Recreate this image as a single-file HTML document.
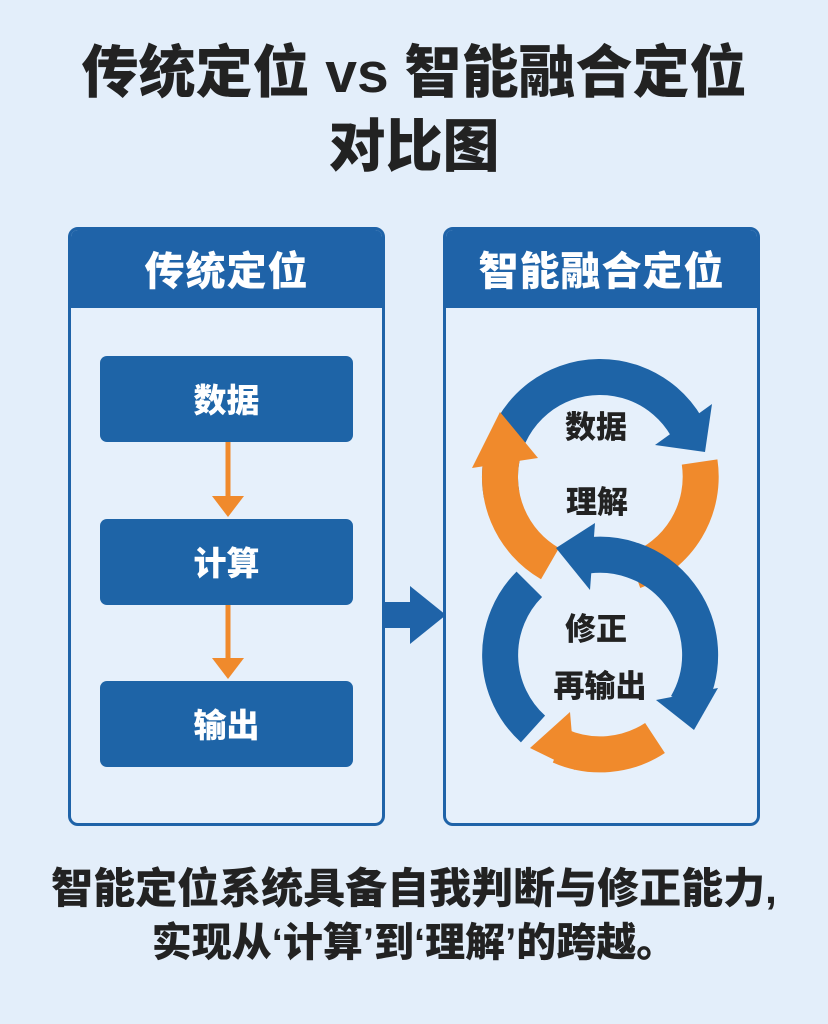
<!DOCTYPE html>
<html><head><meta charset="utf-8"><style>
body{margin:0;width:828px;height:1024px;background:#e3eefa;font-family:"Liberation Sans","Noto Sans CJK SC",sans-serif;position:relative;overflow:hidden}
.t{position:absolute;left:0;width:828px;text-align:center;font-weight:900;color:#222}
.panel{position:absolute;top:227px;width:311px;height:593px;border:3px solid #1f63a8;border-radius:10px;background:#e6f0fb;overflow:hidden}
.hd{height:78px;background:#1f63a8;color:#fff;font-size:40px;font-weight:900;text-align:center;line-height:84px;letter-spacing:1px}
.box{position:absolute;left:100px;width:253px;height:86px;background:#1e64a7;border-radius:7px;color:#fff;font-size:33px;font-weight:900;text-align:center;line-height:90px}
</style></head><body>
<div class="t" style="top:38px;font-size:57px;line-height:70px">传统定位 vs 智能融合定位</div>
<div class="t" style="top:112px;font-size:57px;line-height:70px">对比图</div>
<div class="panel" style="left:68px"><div class="hd">传统定位</div></div>
<div class="panel" style="left:443px"><div class="hd">智能融合定位</div></div>
<div class="box" style="top:356px">数据</div>
<div class="box" style="top:519px">计算</div>
<div class="box" style="top:681px">输出</div>
<svg width="828" height="1024" style="position:absolute;left:0;top:0">
<g fill="#f08a2c" stroke="#f08a2c">
<line x1="228" y1="442" x2="228" y2="500" stroke-width="5"/><polygon points="212,496 244,496 228,517" stroke="none"/>
<line x1="228" y1="605" x2="228" y2="662" stroke-width="5"/><polygon points="212,658 244,658 228,679" stroke="none"/>
</g>
<rect x="384" y="602" width="30" height="26" fill="#1f63a8"/>
<polygon points="410,586 446,615 410,644" fill="#1f63a8"/>
<g fill="none" stroke-width="36">
<path d="M501.5,494.4 A100,100 0 0 1 686.6,427" stroke="#1e64a7"/>
<path d="M699.6,462 A100,100 0 0 1 634.2,571" stroke="#f08a2c"/>
<path d="M550,563.6 A100,100 0 0 1 503.4,451.1" stroke="#f08a2c"/>
<path d="M575,558 A100,100 0 0 1 686.6,705" stroke="#1e64a7"/>
<path d="M533,729 A100,100 0 0 1 529.3,584.3" stroke="#1e64a7"/>
<path d="M655,738 A100,100 0 0 1 560,746" stroke="#f08a2c"/>
</g>
<polygon points="655,445 712,404 705,452" fill="#1e64a7"/>
<polygon points="472,468 500,412 538,458" fill="#f08a2c"/>
<polygon points="595,523 556,548 590,590" fill="#1e64a7"/>
<polygon points="656,700 718,688 694,730" fill="#1e64a7"/>
<polygon points="570,712 530,748 575,770" fill="#f08a2c"/>
<g font-size="31" font-weight="900" fill="#222" text-anchor="middle" font-family="Liberation Sans,Noto Sans CJK SC,sans-serif">
<text x="596" y="438">数据</text><text x="597" y="513">理解</text>
<text x="596" y="640">修正</text><text x="600" y="697">再输出</text>
</g>
</svg>
<div class="t" style="top:862px;font-size:42px;line-height:54px">智能定位系统具备自我判断与修正能力,</div>
<div class="t" style="top:916px;font-size:40px;line-height:54px">实现从‘计算’到‘理解’的跨越。</div>
</body></html>
